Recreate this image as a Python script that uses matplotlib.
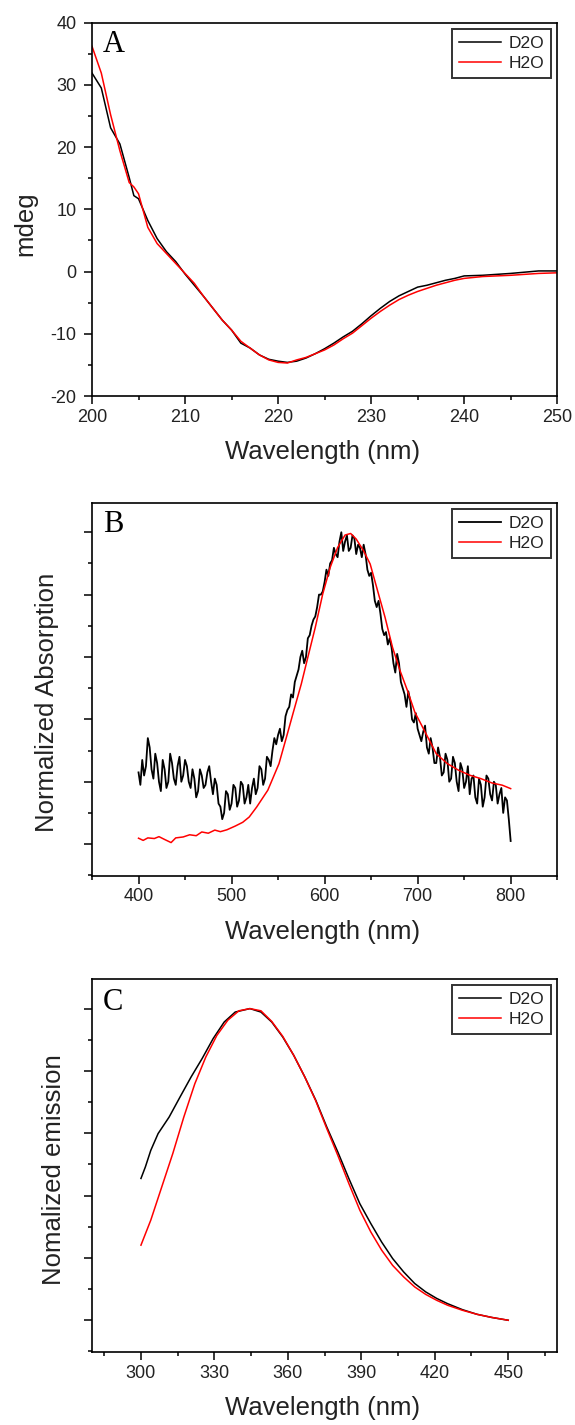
import matplotlib
matplotlib.use('Agg')
import matplotlib.pyplot as plt
from matplotlib.ticker import MultipleLocator, NullFormatter

plt.rcParams['font.family'] = ['Liberation Sans', 'DejaVu Sans']
plt.rcParams['axes.unicode_minus'] = False

# ---- panel A: CD spectra (mdeg) ----
cd_nm = [200, 201, 202, 203, 204, 204.5, 205, 206, 207, 208, 209, 210, 211, 212, 213, 214, 215,
         216, 217, 218, 219, 220, 221, 222, 223, 224, 225, 226, 227, 228, 229, 230, 231, 232,
         233, 234, 235, 236, 237, 238, 239, 240, 242, 245, 248, 250]
cd_d2o = [31.9, 29.5, 23.1, 20.5, 15.1, 12.2, 11.7, 8.2, 5.3, 3.2, 1.6, -0.4, -2.2, -4.0, -5.9,
          -7.8, -9.4, -11.5, -12.3, -13.4, -14.1, -14.4, -14.6, -14.4, -13.9, -13.2, -12.4, -11.5,
          -10.5, -9.6, -8.4, -7.1, -5.9, -4.8, -3.9, -3.2, -2.5, -2.2, -1.8, -1.4, -1.1, -0.7,
          -0.6, -0.3, 0.1, 0.1]
cd_h2o = [36.2, 31.9, 25.2, 19.4, 14.3, 13.6, 12.5, 7.1, 4.5, 2.9, 1.3, -0.3, -1.9, -4.0, -5.9,
          -7.8, -9.4, -11.2, -12.3, -13.4, -14.2, -14.6, -14.7, -14.2, -13.8, -13.2, -12.6, -11.8,
          -10.8, -9.9, -8.7, -7.5, -6.4, -5.4, -4.5, -3.8, -3.2, -2.7, -2.2, -1.8, -1.4, -1.1,
          -0.8, -0.6, -0.3, -0.2]

# ---- panel B: normalized absorption ----
abs_nm_d2o = list(range(400, 801, 2))
abs_d2o = [0.23, 0.19, 0.27, 0.22, 0.25, 0.34, 0.31, 0.24, 0.21, 0.29,
           0.26, 0.20, 0.17, 0.27, 0.24, 0.18, 0.20, 0.29, 0.26, 0.21,
           0.19, 0.25, 0.28, 0.20, 0.22, 0.27, 0.25, 0.20, 0.18, 0.24,
           0.21, 0.15, 0.17, 0.24, 0.22, 0.18, 0.19, 0.23, 0.25, 0.20,
           0.16, 0.21, 0.19, 0.13, 0.12, 0.08, 0.10, 0.17, 0.16, 0.11,
           0.13, 0.19, 0.18, 0.12, 0.14, 0.20, 0.19, 0.13, 0.15, 0.19,
           0.13, 0.18, 0.21, 0.16, 0.18, 0.25, 0.24, 0.19, 0.21, 0.28,
           0.27, 0.25, 0.30, 0.34, 0.32, 0.35, 0.37, 0.33, 0.35, 0.41,
           0.43, 0.44, 0.48, 0.47, 0.52, 0.54, 0.56, 0.60, 0.62, 0.58,
           0.60, 0.66, 0.67, 0.70, 0.72, 0.73, 0.76, 0.80, 0.80, 0.81,
           0.84, 0.88, 0.86, 0.90, 0.91, 0.95, 0.93, 0.92, 0.97, 1.00,
           0.94, 0.97, 0.99, 0.94, 0.95, 0.99, 0.98, 0.93, 0.96, 0.95,
           0.92, 0.96, 0.93, 0.88, 0.86, 0.87, 0.83, 0.78, 0.76, 0.78,
           0.74, 0.69, 0.67, 0.68, 0.64, 0.66, 0.63, 0.58, 0.55, 0.61,
           0.58, 0.52, 0.50, 0.48, 0.44, 0.49, 0.46, 0.40, 0.39, 0.42,
           0.37, 0.35, 0.33, 0.36, 0.38, 0.31, 0.29, 0.34, 0.31, 0.26,
           0.26, 0.31, 0.28, 0.22, 0.23, 0.29, 0.27, 0.20, 0.21, 0.28,
           0.26, 0.20, 0.17, 0.26, 0.24, 0.18, 0.20, 0.25, 0.16, 0.21,
           0.22, 0.15, 0.13, 0.21, 0.19, 0.12, 0.15, 0.22, 0.21, 0.16,
           0.14, 0.20, 0.19, 0.13, 0.16, 0.18, 0.10, 0.15, 0.14, 0.08,
           0.01]
abs_nm_h2o = [400, 405, 410, 417, 422, 428, 435, 440, 448, 455, 462, 468, 475, 482, 488, 495,
              504, 512, 519, 527, 539, 551, 559, 567, 575, 582, 590, 598, 606, 614, 622, 628,
              634, 642, 649, 657, 665, 673, 681, 689, 697, 709, 720, 732, 744, 756, 768, 780,
              791, 800]
abs_h2o = [0.019, 0.012, 0.020, 0.018, 0.024, 0.015, 0.005, 0.020, 0.023, 0.030, 0.027, 0.039,
           0.035, 0.045, 0.040, 0.046, 0.058, 0.070, 0.087, 0.119, 0.173, 0.258, 0.343, 0.429,
           0.514, 0.599, 0.695, 0.802, 0.887, 0.951, 0.991, 0.996, 0.978, 0.940, 0.898, 0.812,
           0.727, 0.631, 0.557, 0.493, 0.423, 0.354, 0.290, 0.258, 0.237, 0.221, 0.210, 0.196,
           0.189, 0.178]

# ---- panel C: normalized emission ----
em_nm_d2o = [300, 301.8, 304, 307, 311.5, 316, 320.5, 325, 329.5, 334, 338.5, 344.5, 349,
             353.4, 357.9, 362.4, 366.9, 371.4, 375.9, 380.4, 384.9, 389.4, 393.9, 398.3,
             402.8, 407.3, 411.8, 416.3, 420.8, 425.3, 431.3, 437.3, 443.3, 450]
em_d2o = [0.455, 0.492, 0.545, 0.599, 0.652, 0.717, 0.781, 0.840, 0.904, 0.957, 0.989, 1.0,
          0.989, 0.957, 0.909, 0.850, 0.781, 0.706, 0.620, 0.540, 0.455, 0.374, 0.310, 0.251,
          0.198, 0.155, 0.118, 0.091, 0.070, 0.053, 0.034, 0.019, 0.009, 0.0]
em_nm_h2o = [300, 304, 308.5, 313, 317.5, 322, 326.5, 331, 335.5, 340, 344.5, 349, 353.4,
             357.9, 362.4, 366.9, 371.4, 375.9, 380.4, 384.9, 389.4, 393.9, 398.3, 402.8,
             407.3, 411.8, 416.3, 420.8, 425.3, 431.3, 437.3, 443.3, 450]
em_h2o = [0.241, 0.321, 0.428, 0.535, 0.652, 0.759, 0.845, 0.914, 0.963, 0.993, 1.0, 0.993,
          0.959, 0.911, 0.850, 0.781, 0.704, 0.615, 0.529, 0.439, 0.353, 0.283, 0.225, 0.176,
          0.139, 0.107, 0.083, 0.064, 0.048, 0.032, 0.019, 0.009, 0.0]

fig = plt.figure(figsize=(5.75, 14.25), dpi=100)
left, width, height = 0.160, 0.809, 0.2620
axA = fig.add_axes([left, 0.7221, width, height])
axB = fig.add_axes([left, 0.3853, width, height])
axC = fig.add_axes([left, 0.0512, width, height])

txt = '#222222'


def style(ax, letter, letter_y):
    for s in ax.spines.values():
        s.set_linewidth(1.2)
    ax.tick_params(which='both', direction='out', top=False, right=False, width=1.1,
                   labelsize=13, labelcolor=txt)
    ax.tick_params(which='major', length=6)
    ax.tick_params(which='minor', length=3)
    ax.tick_params(axis='x', pad=3)
    ax.tick_params(axis='y', pad=5)
    ax.text(0.024, letter_y, letter, transform=ax.transAxes, family='Liberation Serif',
            fontsize=22, va='baseline', ha='left')
    leg = ax.legend(loc='upper right', fontsize=12.5, frameon=True, fancybox=False,
                    edgecolor='black', handlelength=2.4, handletextpad=0.45,
                    borderpad=0.4, labelspacing=0.3, borderaxespad=0.35)
    leg.get_frame().set_linewidth(1.4)
    for t in leg.get_texts():
        t.set_color(txt)
    ax.set_xlabel('Wavelength (nm)', fontsize=18.5, color=txt)
    ax.xaxis.set_label_coords(0.496, -0.118)


# A
axA.plot(cd_nm, cd_d2o, color='black', lw=1.1, label='D2O')
axA.plot(cd_nm, cd_h2o, color='red', lw=1.1, label='H2O')
axA.set_xlim(200, 250)
axA.set_ylim(-20, 40)
axA.xaxis.set_major_locator(MultipleLocator(10))
axA.xaxis.set_minor_locator(MultipleLocator(5))
axA.yaxis.set_major_locator(MultipleLocator(10))
axA.yaxis.set_minor_locator(MultipleLocator(5))
axA.set_ylabel('mdeg', fontsize=18.5, color=txt)
axA.yaxis.set_label_coords(-0.118, 0.461)
style(axA, 'A', 0.922)

# B
axB.plot(abs_nm_d2o, abs_d2o, color='black', lw=1.3, label='D2O')
axB.plot(abs_nm_h2o, abs_h2o, color='red', lw=1.1, label='H2O')
axB.set_xlim(350, 850)
axB.set_ylim(-0.102, 1.095)
axB.set_xticks([400, 500, 600, 700, 800])
axB.xaxis.set_minor_locator(MultipleLocator(50))
axB.yaxis.set_major_locator(MultipleLocator(0.2))
axB.yaxis.set_minor_locator(MultipleLocator(0.1))
axB.yaxis.set_major_formatter(NullFormatter())
axB.set_ylabel('Normalized Absorption', fontsize=18.5, color=txt)
axB.yaxis.set_label_coords(-0.072, 0.465)
style(axB, 'B', 0.92)

# C
axC.plot(em_nm_d2o, em_d2o, color='black', lw=1.1, label='D2O')
axC.plot(em_nm_h2o, em_h2o, color='red', lw=1.1, label='H2O')
axC.set_xlim(280, 470)
axC.set_ylim(-0.102, 1.096)
axC.set_xticks([300, 330, 360, 390, 420, 450])
axC.xaxis.set_minor_locator(MultipleLocator(15))
axC.yaxis.set_major_locator(MultipleLocator(0.2))
axC.yaxis.set_minor_locator(MultipleLocator(0.1))
axC.yaxis.set_major_formatter(NullFormatter())
axC.set_ylabel('Nomalized emission', fontsize=18.5, color=txt)
axC.yaxis.set_label_coords(-0.056, 0.489)
style(axC, 'C', 0.917)

fig.savefig('out.png', dpi=100)
